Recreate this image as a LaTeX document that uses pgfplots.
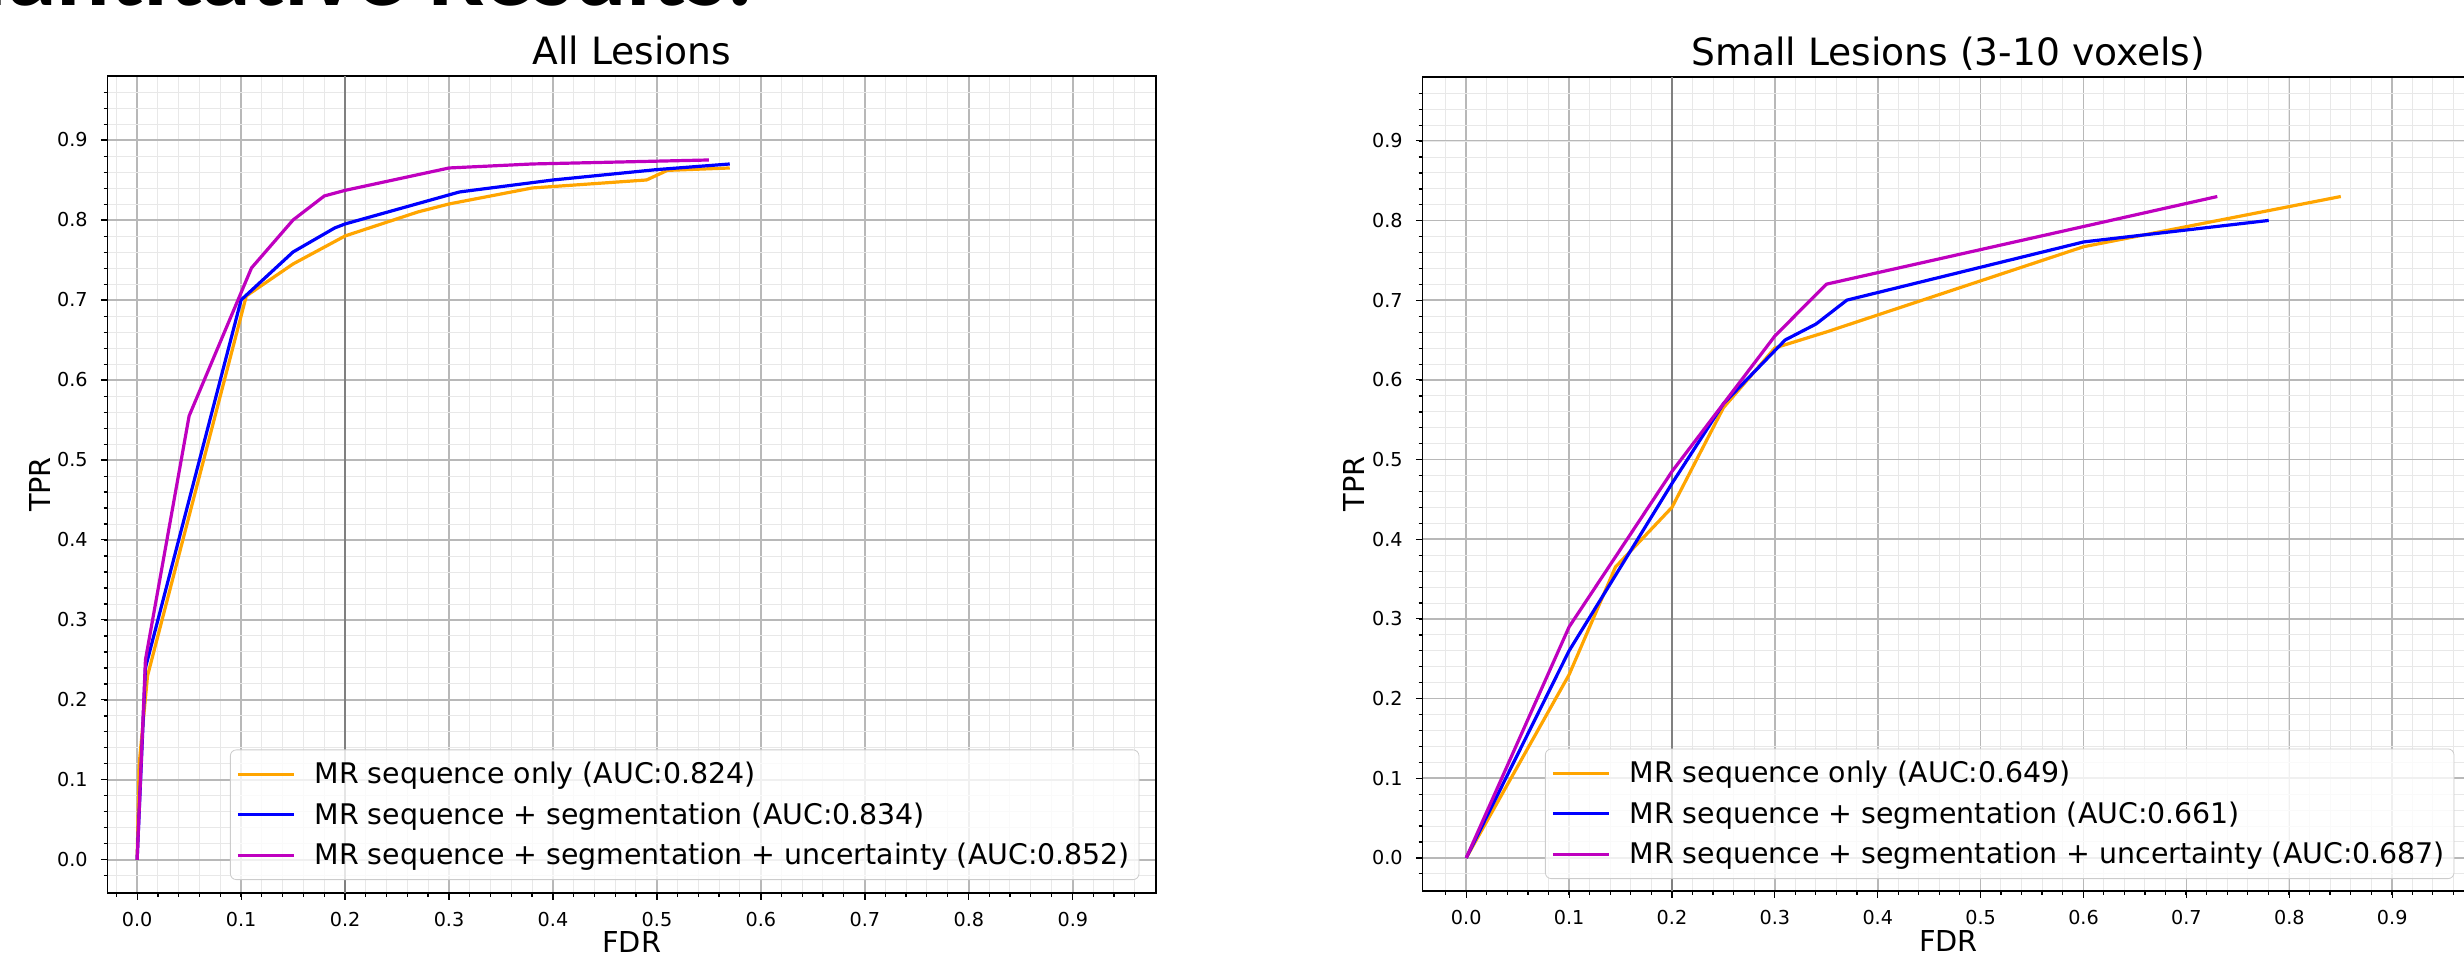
\documentclass[border=0pt]{standalone}
\usepackage{fontspec}
\setmainfont{DejaVu Sans}
\newfontfamily\slidefont{Carlito}
\usepackage{pgfplots}
\pgfplotsset{compat=1.18}

\definecolor{mplorange}{RGB}{255,165,0}
\definecolor{mplblue}{RGB}{0,0,255}
\definecolor{mplmagenta}{RGB}{191,0,191}

% shared look of both ROC panels (matplotlib-like)
\pgfplotsset{
  roc/.style={
    scale only axis,
    ymin=-0.0415, ymax=0.98, xmax=0.98,
    xtick={0,0.1,0.2,0.3,0.4,0.5,0.6,0.7,0.8,0.9},
    ytick={0,0.1,0.2,0.3,0.4,0.5,0.6,0.7,0.8,0.9},
    minor xtick={-0.02,0.02,0.04,...,0.97},
    minor ytick={-0.02,0.02,0.04,...,0.97},
    grid=both,
    major grid style={draw=black!28, line width=0.75pt},
    minor grid style={draw=black!9, line width=0.5pt},
    axis line style={line width=0.9pt},
    tick align=outside, tick pos=left,
    major tick length=3.3pt, minor tick length=1.9pt,
    tick style={black, line width=0.6pt},
    ticklabel style={font=\fontsize{9.6}{11}\selectfont, inner sep=0pt},
    xticklabel style={yshift=-6.1pt},
    yticklabel style={xshift=-6.4pt},
    /pgf/number format/fixed,
    /pgf/number format/fixed zerofill,
    /pgf/number format/precision=1,
    /pgf/number format/assume math mode=true,
    every axis title/.style={at={(0.5,1.0135)}, anchor=base,
      font=\fontsize{18.8}{22}\selectfont},
    xlabel style={font=\fontsize{14.4}{17}\selectfont, anchor=base},
    ylabel style={font=\fontsize{14.4}{17}\selectfont, anchor=base},
    legend style={font=\fontsize{14.2}{17}\selectfont, draw=black!20,
      rounded corners=3pt, fill=white, fill opacity=0.8, text opacity=1,
      anchor=south west, inner xsep=3pt, inner ysep=4.5pt,
      row sep=5pt, column sep=8pt, nodes={inner sep=1.5pt}},
    legend cell align=left,
    legend image code/.code={\draw[#1] (0pt,0pt) -- (28pt,0pt);},
    every axis plot/.append style={line width=1.6pt, line join=round},
  }
}

\begin{document}
\begin{tikzpicture}

% slide heading, mostly cut off by the top edge
\node[anchor=base east, inner sep=0pt, font=\slidefont\bfseries\fontsize{50}{60}\selectfont]
  at (377pt,474.5pt) {Quantitative Results:};

\begin{axis}[roc, at={(53.75pt,31pt)}, anchor=south west,
  width=524.25pt, height=408.5pt, xmin=-0.0285,
  title={All Lesions},
  xlabel={FDR}, xlabel style={at={(axis description cs:0.5,-0.0734)}},
  ylabel={TPR}, ylabel style={at={(axis description cs:-0.0548,0.5)}},
  legend style={at={(0.1168,0.0159)}}]
\addplot[gray, line width=1.2pt, forget plot] coordinates {(0.2,-0.0415) (0.2,0.98)};
\addplot[mplorange] coordinates {
  (0,0) (0.002,0.12) (0.01,0.23) (0.105,0.705) (0.15,0.745) (0.2,0.78)
  (0.27,0.81) (0.3,0.82) (0.38,0.84) (0.49,0.85) (0.51,0.862) (0.57,0.865)};
\addlegendentry{MR sequence only (AUC:0.824)}
\addplot[mplblue] coordinates {
  (0,0) (0.008,0.24) (0.10,0.70) (0.15,0.76) (0.19,0.79) (0.2,0.795)
  (0.31,0.835) (0.4,0.85) (0.5,0.863) (0.57,0.87)};
\addlegendentry{MR sequence + segmentation (AUC:0.834)}
\addplot[mplmagenta] coordinates {
  (0,0) (0.008,0.25) (0.05,0.555) (0.11,0.74) (0.15,0.80) (0.18,0.83)
  (0.2,0.837) (0.3,0.865) (0.38,0.87) (0.55,0.875)};
\addlegendentry{MR sequence + segmentation + uncertainty (AUC:0.852)}
\end{axis}

\begin{axis}[roc, at={(711.25pt,32pt)}, anchor=south west,
  width=526pt, height=407pt, xmin=-0.0425,
  title={Small Lesions (3-10 voxels)},
  xlabel={FDR}, xlabel style={at={(axis description cs:0.5,-0.0749)}},
  ylabel={TPR}, ylabel style={at={(axis description cs:-0.0556,0.5)}},
  legend style={at={(0.1164,0.0147)}}]
\addplot[gray, line width=1.2pt, forget plot] coordinates {(0.2,-0.0415) (0.2,0.98)};
\addplot[mplorange] coordinates {
  (0,0) (0.1,0.23) (0.145,0.365) (0.2,0.44) (0.25,0.565) (0.3,0.64)
  (0.35,0.66) (0.6,0.767) (0.85,0.83)};
\addlegendentry{MR sequence only (AUC:0.649)}
\addplot[mplblue] coordinates {
  (0,0) (0.1,0.26) (0.2,0.47) (0.25,0.57) (0.31,0.65) (0.34,0.67)
  (0.37,0.70) (0.6,0.773) (0.78,0.80)};
\addlegendentry{MR sequence + segmentation (AUC:0.661)}
\addplot[mplmagenta] coordinates {
  (0,0) (0.1,0.29) (0.2,0.485) (0.25,0.57) (0.3,0.655) (0.35,0.72) (0.73,0.83)};
\addlegendentry{MR sequence + segmentation + uncertainty (AUC:0.687)}
\end{axis}

\pgfresetboundingbox
\useasboundingbox (0,0) rectangle (1232pt,477.5pt);
\end{tikzpicture}
\end{document}
